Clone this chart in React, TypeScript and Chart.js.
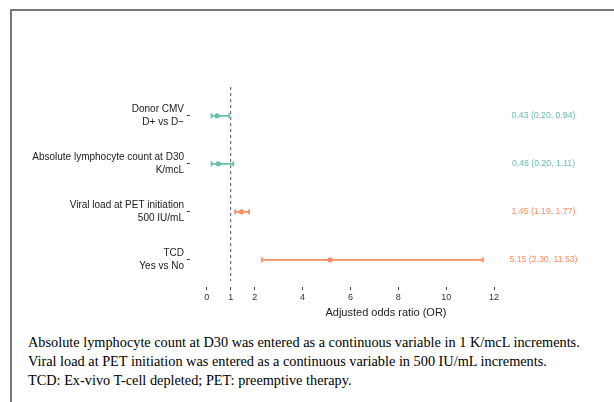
import React, { useEffect, useRef } from "react";
import { Chart, registerables } from "chart.js";

Chart.register(...registerables);

const categories: string[][] = [
  ["Donor CMV", "D+ vs D\u2212"],
  ["Absolute lymphocyte count at D30", "K/mcL"],
  ["Viral load at PET initiation", "500 IU/mL"],
  ["TCD", "Yes vs No"],
];
const oddsRatio = [0.43, 0.48, 1.45, 5.15];
const lowerCI = [0.2, 0.2, 1.19, 2.3];
const upperCI = [0.94, 1.11, 1.77, 11.53];
const xTickValues = [0, 1, 2, 4, 6, 8, 10, 12];
const referenceValue = 1;

const GREEN = "#66c2a5";
const ORANGE = "#fc8d62";
const colorFor = (v: number) => (v < referenceValue ? GREEN : ORANGE);
const fmt = (v: number) => v.toFixed(2);

const FONT = "'Liberation Sans', Arial, Helvetica, sans-serif";

const forestPlugin = {
  id: "forest",
  beforeDatasetsDraw(chart: any) {
    const { ctx, chartArea, scales } = chart;
    const xs = scales.x;
    const ys = scales.y;
    ctx.save();
    const rx = xs.getPixelForValue(referenceValue);
    ctx.strokeStyle = "#555";
    ctx.lineWidth = 1;
    ctx.setLineDash([3, 3]);
    ctx.beginPath();
    ctx.moveTo(rx, chartArea.top);
    ctx.lineTo(rx, chartArea.bottom - 6);
    ctx.stroke();
    ctx.setLineDash([]);
    for (let i = 0; i < oddsRatio.length; i++) {
      const y = ys.getPixelForValue(i + 1);
      const x0 = xs.getPixelForValue(lowerCI[i]);
      const x1 = xs.getPixelForValue(upperCI[i]);
      ctx.strokeStyle = colorFor(oddsRatio[i]);
      ctx.lineWidth = 1.8;
      ctx.beginPath();
      ctx.moveTo(x0, y);
      ctx.lineTo(x1, y);
      ctx.moveTo(x0, y - 2.5);
      ctx.lineTo(x0, y + 2.5);
      ctx.moveTo(x1, y - 2.5);
      ctx.lineTo(x1, y + 2.5);
      ctx.stroke();
    }
    ctx.restore();
  },
  afterDraw(chart: any) {
    const { ctx, scales } = chart;
    const ys = scales.y;
    ctx.save();
    ctx.font = `8.7px ${FONT}`;
    ctx.textAlign = "center";
    ctx.textBaseline = "middle";
    for (let i = 0; i < oddsRatio.length; i++) {
      const y = ys.getPixelForValue(i + 1);
      ctx.fillStyle = colorFor(oddsRatio[i]);
      ctx.fillText(
        `${fmt(oddsRatio[i])} (${fmt(lowerCI[i])}, ${fmt(upperCI[i])})`,
        543.5,
        y
      );
    }
    ctx.restore();
  },
};

function ForestChart() {
  const ref = useRef<HTMLCanvasElement | null>(null);
  useEffect(() => {
    if (!ref.current) return;
    const chart = new Chart(ref.current, {
      type: "scatter",
      data: {
        datasets: [
          {
            data: oddsRatio.map((v, i) => ({ x: v, y: i + 1 })),
            pointBackgroundColor: oddsRatio.map(colorFor),
            pointBorderWidth: 0,
            pointRadius: 2.6,
          },
        ],
      },
      options: {
        animation: false,
        responsive: false,
        devicePixelRatio: 1,
        layout: { padding: { top: 87, right: 32, left: 0, bottom: 0 } },
        plugins: { legend: { display: false }, tooltip: { enabled: false } },
        scales: {
          x: {
            type: "linear",
            min: -0.7,
            max: 15.675,
            afterBuildTicks: (s: any) => {
              s.ticks = xTickValues.map((v) => ({ value: v }));
            },
            afterFit: (s: any) => {
              s.height = 43;
            },
            border: { display: false },
            grid: {
              drawOnChartArea: false,
              drawTicks: true,
              tickLength: 3,
              tickColor: "#444",
            },
            ticks: {
              autoSkip: false,
              maxRotation: 0,
              padding: 2,
              color: "#333",
              font: { family: FONT, size: 9 },
            },
            title: {
              display: true,
              text: "Adjusted odds ratio (OR)",
              color: "#222",
              font: { family: FONT, size: 11 },
              padding: { top: 0, bottom: 10.5 },
            },
          },
          y: {
            type: "linear",
            reverse: true,
            min: 0.4,
            max: 4.567,
            afterBuildTicks: (s: any) => {
              s.ticks = categories.map((_, i) => ({ value: i + 1 }));
            },
            afterFit: (s: any) => {
              s.width = 190;
            },
            border: { display: false },
            grid: {
              drawOnChartArea: false,
              drawTicks: true,
              tickLength: 3,
              tickColor: "#444",
            },
            ticks: {
              autoSkip: false,
              padding: 3,
              color: "#1a1a1a",
              font: { family: FONT, size: 10, lineHeight: 1.3 },
              callback: (v: any) => categories[Math.round(Number(v)) - 1] ?? "",
            },
          },
        },
      },
      plugins: [forestPlugin],
    });
    return () => chart.destroy();
  }, []);
  return (
    <canvas
      ref={ref}
      width={614}
      height={330}
      style={{ position: "absolute", left: 0, top: 0, width: 614, height: 330 }}
    />
  );
}

export default function App() {
  return (
    <div
      style={{
        position: "absolute",
        left: 0,
        top: 0,
        width: 614,
        height: 402,
        overflow: "hidden",
        background: "#fff",
      }}
    >
      <div
        style={{
          position: "absolute",
          left: 10,
          top: 9,
          right: 0,
          bottom: 0,
          borderTop: "2px solid #777",
          borderLeft: "2px solid #777",
        }}
      />
      <ForestChart />
      <div
        style={{
          position: "absolute",
          left: 28,
          top: 333,
          fontFamily: "'Liberation Serif', 'Times New Roman', serif",
          fontSize: 14.3,
          lineHeight: "19px",
          color: "#000",
          whiteSpace: "nowrap",
        }}
      >
        <div>Absolute lymphocyte count at D30 was entered as a continuous variable in 1 K/mcL increments.</div>
        <div>Viral load at PET initiation was entered as a continuous variable in 500 IU/mL increments.</div>
        <div>TCD: Ex-vivo T-cell depleted; PET: preemptive therapy.</div>
      </div>
    </div>
  );
}
